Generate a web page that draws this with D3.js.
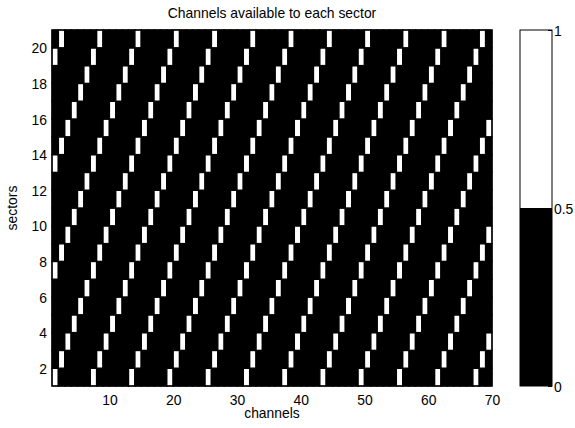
<!DOCTYPE html>
<html>
<head>
<meta charset="utf-8">
<script src="https://cdn.jsdelivr.net/npm/d3@7"></script>
<style>
  html, body { margin: 0; padding: 0; background: #fff; }
  svg text { font-family: "Liberation Sans", Arial, sans-serif; font-size: 13.9px; fill: #000; }
</style>
</head>
<body>
<svg id="chart" width="575" height="428"></svg>
<script>
// ---- Data ----
const title = "Channels available to each sector";
const xLabel = "channels";
const yLabel = "sectors";
const channels = d3.range(1, 70);          // visible channel cells 1..69
const sectors = d3.range(1, 21);           // visible sector rows 1..20
const xTicks = [10, 20, 30, 40, 50, 60, 70];
const yTicks = [2, 4, 6, 8, 10, 12, 14, 16, 18, 20];
const colorbarTicks = [0, 0.5, 1];
const colorbarColors = ["#000000", "#ffffff"];
// channels shown as available (white) for each sector
const availableChannels = [
  [1, 7, 13, 19, 25, 31, 37, 43, 49, 55, 61, 67],   // sector 1
  [2, 8, 14, 20, 26, 32, 38, 44, 50, 56, 62, 68],   // sector 2
  [3, 9, 15, 21, 27, 33, 39, 45, 51, 57, 63, 69],   // sector 3
  [4, 10, 16, 22, 28, 34, 40, 46, 52, 58, 64],      // sector 4
  [5, 11, 17, 23, 29, 35, 41, 47, 53, 59, 65],      // sector 5
  [6, 12, 18, 24, 30, 36, 42, 48, 54, 60, 66],      // sector 6
  [1, 7, 13, 19, 25, 31, 37, 43, 49, 55, 61, 67],   // sector 7
  [2, 8, 14, 20, 26, 32, 38, 44, 50, 56, 62, 68],   // sector 8
  [3, 9, 15, 21, 27, 33, 39, 45, 51, 57, 63, 69],   // sector 9
  [4, 10, 16, 22, 28, 34, 40, 46, 52, 58, 64],      // sector 10
  [5, 11, 17, 23, 29, 35, 41, 47, 53, 59, 65],      // sector 11
  [6, 12, 18, 24, 30, 36, 42, 48, 54, 60, 66],      // sector 12
  [1, 7, 13, 19, 25, 31, 37, 43, 49, 55, 61, 67],   // sector 13
  [2, 8, 14, 20, 26, 32, 38, 44, 50, 56, 62, 68],   // sector 14
  [3, 9, 15, 21, 27, 33, 39, 45, 51, 57, 63, 69],   // sector 15
  [4, 10, 16, 22, 28, 34, 40, 46, 52, 58, 64],      // sector 16
  [5, 11, 17, 23, 29, 35, 41, 47, 53, 59, 65],      // sector 17
  [6, 12, 18, 24, 30, 36, 42, 48, 54, 60, 66],      // sector 18
  [1, 7, 13, 19, 25, 31, 37, 43, 49, 55, 61, 67],   // sector 19
  [2, 8, 14, 20, 26, 32, 38, 44, 50, 56, 62, 68]    // sector 20
];

// ---- Layout ----
const plot = { left: 52, right: 492, top: 30, bottom: 386 };
const cbar = { left: 520, right: 552 };
const FONT = '"Liberation Sans", Arial, sans-serif';
const FS = "13.9px";

const svg = d3.select("#chart");

const x = d3.scaleLinear().domain([1, 70]).range([plot.left, plot.right]);
const y = d3.scaleLinear().domain([1, 21]).range([plot.bottom, plot.top]);
const color = d3.scaleThreshold().domain([0.5]).range(colorbarColors);

// build cell table
const cells = [];
sectors.forEach((s, i) => {
  const avail = new Set(availableChannels[i]);
  channels.forEach(c => cells.push({ c, s, v: avail.has(c) ? 1 : 0 }));
});

const g = svg.append("g");
g.selectAll("rect.cell")
  .data(cells)
  .join("rect")
  .attr("class", "cell")
  .attr("x", d => x(d.c))
  .attr("y", d => y(d.s + 1))
  .attr("width", d => x(d.c + 1) - x(d.c))
  .attr("height", d => y(d.s) - y(d.s + 1))
  .attr("fill", d => color(d.v))
  .attr("stroke", "#000")
  .attr("stroke-width", 1.4);

// axes frame
svg.append("rect")
  .attr("x", plot.left).attr("y", plot.top)
  .attr("width", plot.right - plot.left).attr("height", plot.bottom - plot.top)
  .attr("fill", "none").attr("stroke", "#000").attr("stroke-width", 1);

// x axis
const xAxis = d3.axisBottom(x).tickValues(xTicks).tickSize(0).tickPadding(0).tickFormat(d3.format("d"));
const gx = svg.append("g").attr("transform", `translate(0,${plot.bottom})`).call(xAxis);
gx.select(".domain").remove();
gx.selectAll("text").attr("y", 19).attr("dy", null)
  .style("font-family", FONT).style("font-size", FS);

// y axis
const yAxis = d3.axisLeft(y).tickValues(yTicks).tickSize(0).tickPadding(0).tickFormat(d3.format("d"));
const gy = svg.append("g").attr("transform", `translate(${plot.left - 5},0)`).call(yAxis);
gy.select(".domain").remove();
gy.selectAll("text").attr("x", 0).attr("dy", "0.36em")
  .style("font-family", FONT).style("font-size", FS);

// title & labels
svg.append("text").attr("x", (plot.left + plot.right) / 2).attr("y", 18)
  .attr("text-anchor", "middle").text(title);
svg.append("text").attr("x", (plot.left + plot.right) / 2).attr("y", 418)
  .attr("text-anchor", "middle").text(xLabel);
svg.append("text").attr("transform", `translate(17,${(plot.top + plot.bottom) / 2}) rotate(-90)`)
  .attr("text-anchor", "middle").text(yLabel);

// colorbar
const cy = d3.scaleLinear().domain([0, 1]).range([plot.bottom, plot.top]);
const cbSegs = [{ lo: 0, hi: 0.5, v: 0 }, { lo: 0.5, hi: 1, v: 1 }];
svg.selectAll("rect.cb")
  .data(cbSegs)
  .join("rect")
  .attr("class", "cb")
  .attr("x", cbar.left)
  .attr("y", d => cy(d.hi))
  .attr("width", cbar.right - cbar.left)
  .attr("height", d => cy(d.lo) - cy(d.hi))
  .attr("fill", d => color(d.v));
svg.append("rect")
  .attr("x", cbar.left).attr("y", plot.top)
  .attr("width", cbar.right - cbar.left).attr("height", plot.bottom - plot.top)
  .attr("fill", "none").attr("stroke", "#000").attr("stroke-width", 1);

const cAxis = d3.axisRight(cy).tickValues(colorbarTicks).tickSize(-4).tickPadding(6)
  .tickFormat(d => d === 0.5 ? "0.5" : d3.format("d")(d));
const gc = svg.append("g").attr("transform", `translate(${cbar.right},0)`).call(cAxis);
gc.select(".domain").remove();
gc.selectAll("line").attr("stroke", "#000");
gc.selectAll("text").attr("x", 2).attr("dy", "0.36em")
  .style("font-family", FONT).style("font-size", FS);
</script>
</body>
</html>
